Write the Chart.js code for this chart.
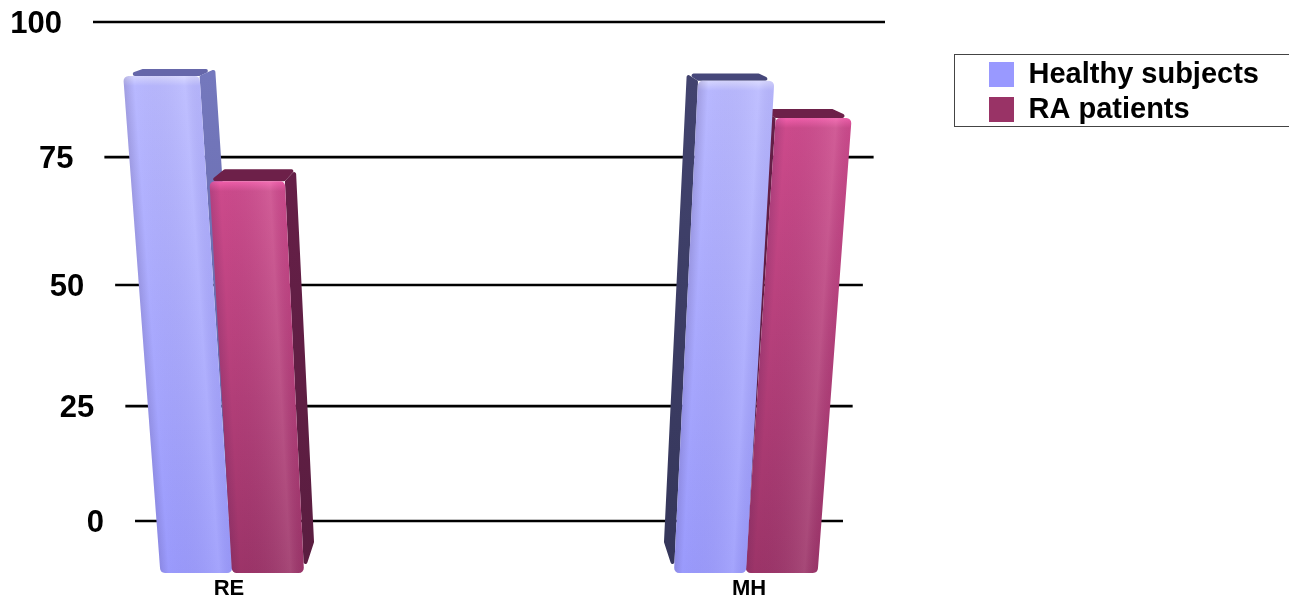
<!DOCTYPE html>
<html lang="en">
<head>
  <meta charset="UTF-8">
  <title>RE and MH</title>
  <script src="https://cdn.jsdelivr.net/npm/chart.js"></script>
  <style>
    html, body { margin: 0; background: #fff; }
    #wrap { width: 1289px; height: 600px; }
  </style>
</head>
<body>
  <div id="wrap"><canvas id="chart"></canvas></div>

  <script>
    const categories = ['RE', 'MH'];
    const seriesNames = ['Healthy subjects', 'RA patients'];
    const healthyValues = [90.2, 89.3];
    const raValues = [70.4, 82.4];
    const yTicks = [0, 25, 50, 75, 100];
    const yFloor = -11.75;

    const seriesColors = ['#9999ff', '#993366'];
    const seriesShades = [
      { hi: '#d6d6ff', top: '#b8b8ff', bottom: '#9a9afc', sideR: ['#7478bd', '#5f62a0'], sideL: ['#42436e', '#35365a'], capR: '#6667aa', capL: '#46477a' },
      { hi: '#f25fab', top: '#cc4a8b', bottom: '#9c3468', sideR: ['#651f47', '#5a1d40'], sideL: ['#651f47', '#5a1d40'], capR: '#6d2049', capL: '#6d2049' }
    ];

    // the picture is a tilted 3D chart, so width shrinks going down
    const centerX = 489;
    const halfAt = y => 396 - 0.0842 * (y - 22);
    const flatHalf = halfAt(521);
    const toBack = ([x, y]) => [x + (centerX - x) * 0.054, y * 0.952 - 3.35];

    // corner of a bar: the bar centre follows the tilt fully, its width only half
    function corner(el, side, y) {
      const ratio = halfAt(y) / flatHalf;
      return [centerX + (el.x - centerX) * ratio + side * el.width / 2 * (1 + (ratio - 1) / 2), y];
    }

    function polyPath(ctx, pts, r) {
      ctx.beginPath();
      const n = pts.length;
      const start = [(pts[n - 1][0] + pts[0][0]) / 2, (pts[n - 1][1] + pts[0][1]) / 2];
      ctx.moveTo(start[0], start[1]);
      pts.forEach((p, i) => {
        const next = pts[(i + 1) % n];
        ctx.arcTo(p[0], p[1], next[0], next[1], r);
      });
      ctx.closePath();
    }

    class PerspectiveScale extends Chart.LinearScale {
      getPixelForValue(value) {
        const t = (value - this.min) / (this.max - this.min);
        const k = -0.1132;
        return this.bottom - (this.bottom - this.top) * t * (1 + k) / (1 + k * t);
      }
    }
    PerspectiveScale.id = 'perspective';
    PerspectiveScale.defaults = Chart.LinearScale.defaults;
    Chart.register(PerspectiveScale);

    function drawBar(ctx, el, set) {
      const s = seriesShades[set];
      const onLeft = el.x < centerX;
      const tl = corner(el, -1, el.y), tr = corner(el, 1, el.y);
      const bl = corner(el, -1, el.base), br = corner(el, 1, el.base);
      const btl = toBack(tl), btr = toBack(tr);

      ctx.save();

      // top face
      polyPath(ctx, [tl, btl, btr, tr], 2);
      ctx.fillStyle = onLeft ? s.capR : s.capL;
      ctx.fill();

      // side face
      const edgeT = onLeft ? tr : tl, edgeB = onLeft ? br : bl;
      const backT = onLeft ? btr : btl, backB = toBack(edgeB);
      const shade = onLeft ? s.sideR : s.sideL;
      const sg = ctx.createLinearGradient(0, edgeT[1], 0, edgeB[1]);
      sg.addColorStop(0, shade[0]);
      sg.addColorStop(1, shade[1]);
      polyPath(ctx, [edgeT, backT, backB, edgeB], 2);
      ctx.fillStyle = sg;
      ctx.fill();

      // front face
      const g = ctx.createLinearGradient(0, el.y, 0, el.base);
      const band = 10 / (el.base - el.y);
      g.addColorStop(0, s.hi);
      g.addColorStop(band, s.top);
      g.addColorStop(1, s.bottom);
      polyPath(ctx, [tl, tr, br, bl], 5);
      ctx.fillStyle = g;
      ctx.fill();
      ctx.clip();

      // soft side bevels, sheared so they run along the slanted bar
      const w = tr[0] - tl[0];
      const barH = el.base - el.y;
      const shear = ((bl[0] - tl[0]) + (br[0] - tr[0])) / 2 / barH;
      ctx.translate(tl[0], tl[1]);
      ctx.transform(1, 0, shear, 1, 0, 0);
      const h = ctx.createLinearGradient(0, 0, w, 0);
      h.addColorStop(0, 'rgba(40,20,70,0.16)');
      h.addColorStop(0.14, 'rgba(40,20,70,0)');
      h.addColorStop(0.8, 'rgba(255,255,255,0.1)');
      h.addColorStop(1, 'rgba(40,20,70,0.03)');
      ctx.fillStyle = h;
      ctx.fillRect(-6, 0, w + 12, barH);
      ctx.restore();
    }

    const perspectiveAxis = {
      id: 'perspectiveAxis',
      afterLayout(chart) {
        const lg = chart.legend;
        lg.left = 983; lg.right = 1289; lg.top = 54; lg.bottom = 130;
      },
      beforeDatasetsDraw(chart) {
        const ctx = chart.ctx, scale = chart.scales.y;
        ctx.save();
        scale.ticks.forEach(t => {
          const y = scale.getPixelForValue(t.value);
          const half = halfAt(y);
          ctx.strokeStyle = '#000';
          ctx.lineWidth = 2.6;
          ctx.beginPath();
          ctx.moveTo(centerX - half, y);
          ctx.lineTo(centerX + half, y);
          ctx.stroke();
          ctx.fillStyle = '#000';
          ctx.font = 'bold 31px "Liberation Sans"';
          ctx.textAlign = 'right';
          ctx.textBaseline = 'middle';
          ctx.fillText(String(t.value), centerX - half - 31, y + 2);
        });
        // legend frame
        ctx.strokeStyle = '#444';
        ctx.lineWidth = 1;
        ctx.strokeRect(954.5, 54.5, 340, 72);
        ctx.restore();
      },
      // the bar nearer the middle of the picture is always in front
      beforeDatasetDraw: () => false,
      afterDatasetsDraw(chart) {
        const metas = chart.data.datasets.map((d, set) => chart.getDatasetMeta(set));
        categories.forEach((c, i) => {
          const order = i === 0 ? [0, 1] : [1, 0];
          order.forEach(set => drawBar(chart.ctx, metas[set].data[i], set));
        });
      }
    };

    new Chart(document.getElementById('chart'), {
      type: 'bar',
      data: {
        labels: categories,
        datasets: [
          { label: seriesNames[0], data: healthyValues, backgroundColor: seriesColors[0] },
          { label: seriesNames[1], data: raValues, backgroundColor: seriesColors[1] }
        ].map(d => ({ ...d, base: yFloor, barThickness: 72.5 }))
      },
      options: {
        responsive: true,
        maintainAspectRatio: false,
        animation: false,
        layout: { padding: { left: 229, right: 540, top: 22, bottom: 0 } },
        scales: {
          x: {
            offset: false,
            afterFit: s => { s.height = 27; },
            grid: { display: false, drawTicks: false },
            border: { display: false },
            ticks: { color: '#000', padding: 5, maxRotation: 0, font: { family: '"Liberation Sans"', weight: 'bold', size: 22, lineHeight: 1 } }
          },
          y: {
            type: 'perspective',
            min: yFloor,
            max: 100,
            afterFit: s => { s.width = 0; },
            afterBuildTicks: s => { s.ticks = yTicks.map(value => ({ value })); },
            grid: { display: false },
            border: { display: false },
            ticks: { display: false }
          }
        },
        plugins: {
          tooltip: { enabled: false },
          legend: {
            position: 'chartArea',
            align: 'start',
            labels: {
              color: '#000',
              boxWidth: 25,
              boxHeight: 25,
              padding: 6,
              font: { family: '"Liberation Sans"', weight: 'bold', size: 29 }
            }
          }
        }
      },
      plugins: [perspectiveAxis]
    });
  </script>
</body>
</html>
